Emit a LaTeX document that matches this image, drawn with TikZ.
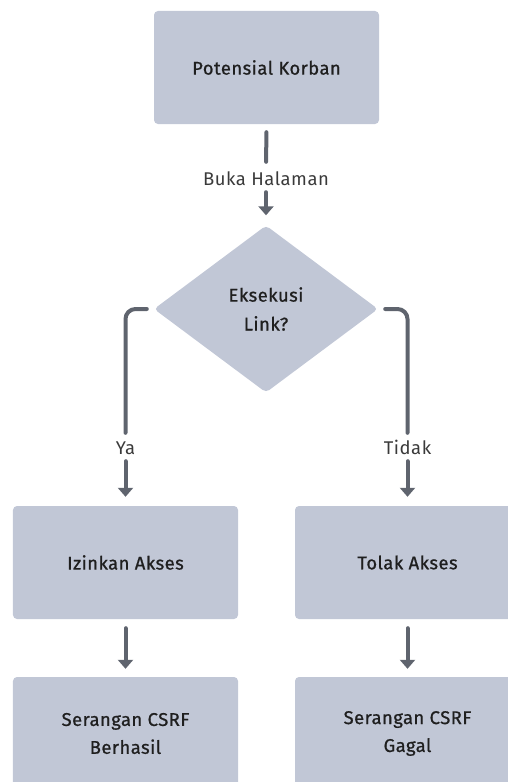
\documentclass[tikz,border=0pt]{standalone}
\usepackage{fontspec}
\setmainfont{Fira Sans}[LetterSpace=3]
\newfontfamily\boxfont{Fira Sans}[LetterSpace=2.5, FakeBold=0.8]
\usetikzlibrary{shapes.geometric,arrows.meta}

\definecolor{boxfill}{HTML}{C1C7D6}
\definecolor{linegray}{HTML}{5F646E}
\definecolor{labelgray}{HTML}{3A3A3A}

\tikzset{
  box/.style={fill=boxfill, rounded corners=4bp, minimum width=225bp, minimum height=113bp,
    align=center, text=black!88, font=\boxfont\fontsize{18.5}{28}\selectfont},
  decision/.style={diamond, fill=boxfill, rounded corners=4bp, inner sep=0pt,
    minimum width=224bp, minimum height=167bp, align=center, text=black!88,
    font=\boxfont\fontsize{18.5}{29}\selectfont},
  lbl/.style={inner sep=0pt, minimum height=22bp, text height=13bp, text depth=4bp,
    text=labelgray, font=\fontsize{18.5}{20}\selectfont},
  conn/.style={draw=linegray, line width=4bp, line cap=round},
  arr/.style={conn, -{Triangle[length=9bp,width=15bp]}}
}

\begin{document}
\begin{tikzpicture}[x=1bp,y=1bp]
\clip (0,0) rectangle (508,-782);
% boxes
\node[box] (korban) at (266.5,-67.5) {Potensial Korban};
\node[decision] (eksekusi) at (266,-309) {Eksekusi\\Link?};
\node[box] (izinkan) at (125.5,-562.5) {Izinkan Akses};
\node[box] (tolak) at (407.5,-562.5) {Tolak Akses};
\node[box] (berhasil) at (125.5,-733.5) {Serangan CSRF\\Berhasil};
\node[box] (gagal) at (407.5,-733.5) {Serangan CSRF\\Gagal};
% labels
\node[lbl] (buka) at (266,-181) {Buka Halaman};
\node[lbl] (ya) at (125.5,-450) {Ya};
\node[lbl] (tidak) at (407.5,-450) {Tidak};
%
\draw[conn, shorten <=8bp, shorten >=8bp] (korban.south) -- (buka.north);
\draw[arr, shorten >=10bp] (buka.south) -- (eksekusi.north);
\draw[conn, rounded corners=10bp, shorten <=7bp, shorten >=6bp] (eksekusi.west) -| (ya.north);
\draw[conn, rounded corners=10bp, shorten <=7bp, shorten >=6bp] (eksekusi.east) -| (tidak.north);
\draw[arr, shorten >=9bp] (ya.south) -- (izinkan.north);
\draw[arr, shorten >=9bp] (tidak.south) -- (tolak.north);
\draw[arr, shorten <=9bp, shorten >=8bp] (izinkan.south) -- (berhasil.north);
\draw[arr, shorten <=9bp, shorten >=8bp] (tolak.south) -- (gagal.north);
\end{tikzpicture}
\end{document}
